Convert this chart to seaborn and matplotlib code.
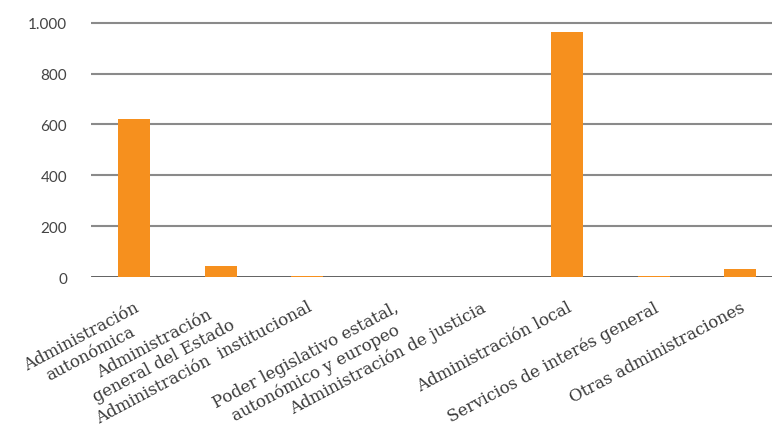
import matplotlib
matplotlib.use("Agg")
import matplotlib.pyplot as plt
import seaborn as sns
import pandas as pd

categorias = [
    "Administración\nautonómica",
    "Administración\ngeneral del Estado",
    "Administración  institucional",
    "Poder legislativo estatal,\nautonómico y europeo",
    "Administración de justicia",
    "Administración local",
    "Servicios de interés general",
    "Otras administraciones",
]
valores = [622, 44, 7, 3, 3, 964, 6, 33]
marcas_y = [0, 200, 400, 600, 800, 1000]
etiquetas_y = ["0", "200", "400", "600", "800", "1.000"]

naranja = "#F6901E"

sns.set_theme(style="white")
df = pd.DataFrame({"categoria": categorias, "valor": valores})

fig = plt.figure(figsize=(7.72, 4.35), dpi=100)
ax = fig.add_axes([0.1175, 0.360, 0.8825, 0.5917])

for y in marcas_y[1:]:
    ax.axhline(y, color="#8a8a8a", lw=1.5, zorder=1)
ax.axhline(0, color="#333333", lw=1.8, zorder=2)

sns.barplot(data=df, x="categoria", y="valor", color=naranja, width=0.37,
            saturation=1, linewidth=0, edgecolor="none", ax=ax)
for p in ax.patches:
    p.set_zorder(3)

ax.set_xlim(-0.5, 7.366)
ax.set_ylim(0, 1010)
ax.set_yticks(marcas_y)
ax.set_yticklabels(etiquetas_y, fontsize=11, color="#444444", family=["Lato", "DejaVu Sans"])

ax.set_xlabel("")
ax.set_ylabel("")
for s in ax.spines.values():
    s.set_visible(False)
ax.tick_params(axis="y", length=0, pad=17)
ax.tick_params(axis="x", length=0, pad=15)
for lab in ax.get_xticklabels():
    lab.set_rotation(28)
    lab.set_ha("right")
    lab.set_rotation_mode("anchor")
    lab.set_multialignment("center")
    lab.set_fontsize(12)
    lab.set_color("#3a3a3a")
    lab.set_family(["DejaVu Serif"])

fig.savefig("out.png", dpi=100)
